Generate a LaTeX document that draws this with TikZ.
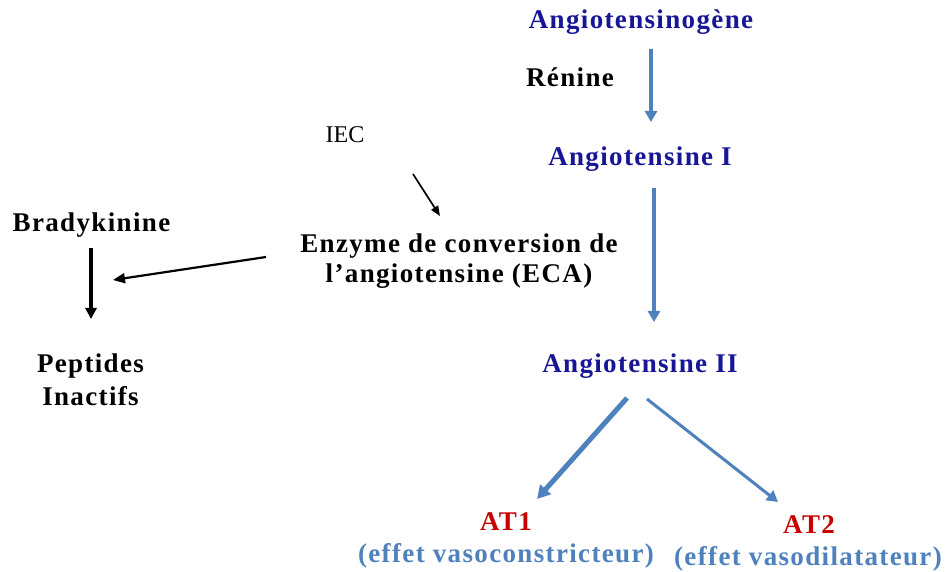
\documentclass[tikz,border=0pt]{standalone}
\usepackage{fontspec}
\setmainfont{Liberation Serif}
\newfontfamily\tbn[LetterSpace=5]{Liberation Serif Bold}
\usetikzlibrary{arrows.meta}
\definecolor{dblue}{RGB}{22,22,150}
\definecolor{rred}{RGB}{200,0,0}
\definecolor{lblue}{RGB}{79,129,189}
\begin{document}
\begin{tikzpicture}[x=1pt,y=-1pt,
  lbl/.style={inner sep=0pt, anchor=base, align=center, font=\tbn\fontsize{27}{30}\selectfont},
  reg/.style={inner sep=0pt, anchor=base, font=\fontsize{24}{26}\selectfont},
  barrow/.style={draw=lblue, line width=3.4pt, -{Triangle[length=11pt,width=12pt]}},
  karrow/.style={draw=black, line width=1.8pt, -{Triangle[length=10pt,width=8pt]}}]
\useasboundingbox[fill=white] (0,0) rectangle (946,572);

% nodes
\node[lbl, text=dblue] (agen) at (641,29) {Angiotensinogène};
\node[lbl] (ren) at (570,87) {Rénine};
\node[lbl, text=dblue] (ag1) at (640,166) {Angiotensine I};
\node[lbl, text=dblue] (ag2) at (640,373) {Angiotensine II};
\node[reg] (iec) at (345,143) {IEC};
\node[lbl] (eca) at (459,283) {Enzyme de conversion de\\l’angiotensine (ECA)};
\node[lbl] (brady) at (91.5,232) {Bradykinine};
\node[lbl, font=\tbn\fontsize{27}{33}\selectfont] (pep) at (90.5,405) {Peptides\\Inactifs};
\node[lbl, text=rred] (at1) at (506,530) {AT1};
\node[lbl, text=lblue] (eff1) at (506,562) {(effet vasoconstricteur)};
\node[lbl, text=rred] (at2) at (809,533) {AT2};
\node[lbl, text=lblue] (eff2) at (808,565) {(effet vasodilatateur)};

% connector end points
\coordinate (a1s) at (651,49);
\coordinate (a1e) at (651,122);
\coordinate (a2s) at (654,188);
\coordinate (a2e) at (654,322);
\coordinate (a3s) at (627,398);
\coordinate (a3e) at (537,499);
\coordinate (a4s) at (647,399);
\coordinate (a4e) at (778,502);
\coordinate (iecs) at (413,174);
\coordinate (ieCe) at (440,216);
\coordinate (ecas) at (266,257);
\coordinate (ecae) at (113,280);
\coordinate (brs) at (91,248);
\coordinate (bre) at (91,319);

% connectors
\draw[barrow] (a1s) -- (a1e);
\draw[barrow] (a2s) -- (a2e);
\draw[barrow, line width=5pt, -{Triangle[length=13pt,width=14pt]}] (a3s) -- (a3e);
\draw[barrow, line width=3pt] (a4s) -- (a4e);
\draw[karrow, line width=1.7pt] (iecs) -- (ieCe);
\draw[karrow, line width=2.2pt, -{Triangle[length=12pt,width=10pt]}] (ecas) -- (ecae);
\draw[karrow, line width=3.2pt, -{Triangle[length=11pt,width=11pt]}] (brs) -- (bre);
\end{tikzpicture}
\end{document}
